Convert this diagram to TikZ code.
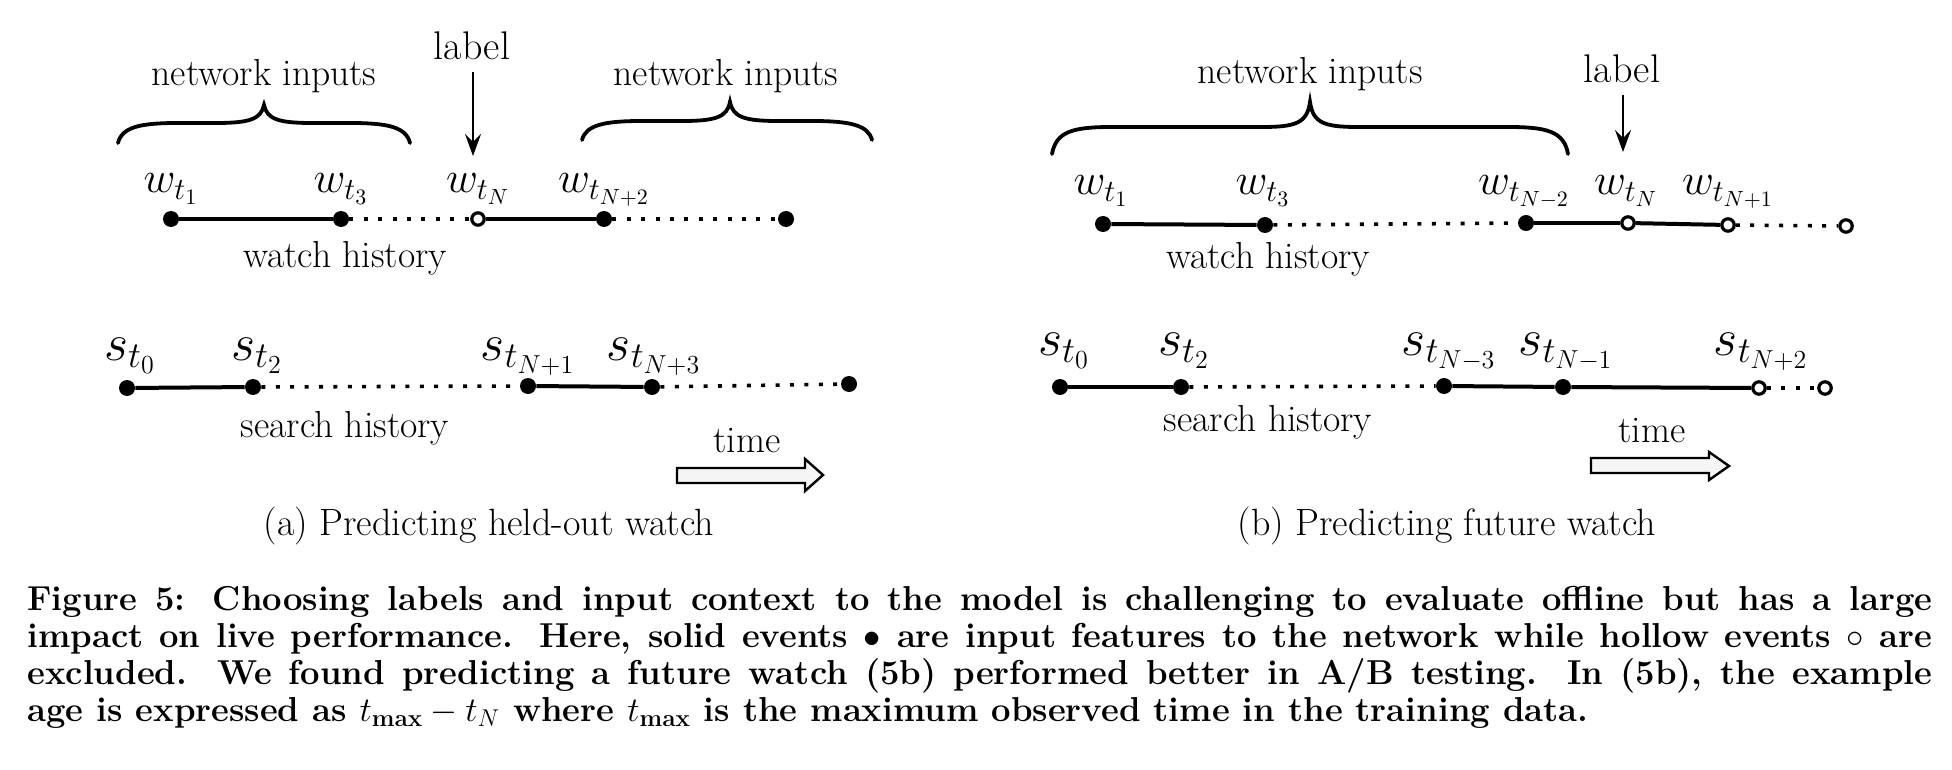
\RequirePackage{fix-cm}
\documentclass[tikz,border=0pt]{standalone}
\usetikzlibrary{arrows.meta}
\newcommand\drawbrace[6]{% x1, xm, x2, yend, yflat, ytip
  \draw[bracestyle] (#1,#4) .. controls (#1+4,#5+4) and (#1+22,#5) .. (#1+60,#5)
    -- (#2-48,#5) .. controls (#2-14,#5) and (#2-3,#5-4) .. (#2,#6)
    .. controls (#2+3,#5-4) and (#2+14,#5) .. (#2+48,#5)
    -- (#3-60,#5) .. controls (#3-22,#5) and (#3-4,#5+4) .. (#3,#4);}
\begin{document}
\begin{tikzpicture}[x=0.5pt,y=-0.5pt,
  dotf/.style={circle,fill=black,inner sep=0pt,minimum size=8pt},
  doth/.style={circle,draw=black,fill=white,line width=1.6pt,inner sep=0pt,minimum size=6.2pt},
  seg/.style={line width=2pt},
  dotseg/.style={line width=1.8pt,dash pattern=on 2pt off 5.2pt},
  bracestyle/.style={line width=1.9pt,line cap=round},
  lbl/.style={font=\fontsize{18.8}{21}\selectfont,inner sep=0pt,anchor=base},
  lab/.style={font=\fontsize{20}{22}\selectfont,inner sep=0pt,anchor=base},
  wl/.style={font=\fontsize{22}{24}\selectfont,inner sep=0pt,anchor=base},
  sl/.style={font=\fontsize{26}{28}\selectfont,inner sep=0pt,anchor=base},
  sub/.style={font=\fontsize{19}{21}\selectfont,inner sep=0pt,anchor=base},
  labarrow/.style={line width=1pt,-{Stealth[length=11pt,width=8pt,inset=4pt]}},
  timearrow/.style={draw=black,fill=gray!8,line width=1.2pt,line join=miter},
  captl/.style={inner sep=0pt,anchor=base west,font=\fontsize{17.3}{18.5}\selectfont\bfseries}
]
\useasboundingbox (0,0) rectangle (1952,770);
\fill[white] (0,0) rectangle (1952,770);

% ---------------- panel (a) ----------------
\node[lbl] (netA1) at (264,86) {network inputs};
\node[lbl] (netA2) at (726,86) {network inputs};
\drawbrace{118}{264}{410}{143}{123}{105}
\drawbrace{582}{730}{872}{140}{121}{102}
\node[lab] (labA) at (472,60) {label};
\coordinate (labAs) at (473,72);
\coordinate (labAe) at (473,156);
\draw[labarrow] (labAs) -- (labAe);

\node[dotf] (wa1) at (171,219) {};
\node[dotf] (wa2) at (341,219) {};
\node[doth] (wa3) at (478,219) {};
\node[dotf] (wa4) at (604,219) {};
\node[dotf] (wa5) at (786,219) {};
\draw[seg] (wa1) -- (wa2);
\draw[dotseg] (wa2) -- (wa3);
\draw[seg] (wa3) -- (wa4);
\draw[dotseg] (wa4) -- (wa5);
\node[wl] (lwa1) at (171,193) {$w_{t_1}$};
\node[wl] (lwa2) at (341,193) {$w_{t_3}$};
\node[wl] (lwa3) at (478,193) {$w_{t_N}$};
\node[wl] (lwa4) at (604,193) {$w_{t_{N+2}}$};
\node[lbl] (whA) at (345,267) {watch history};

\node[dotf] (sa1) at (127,388) {};
\node[dotf] (sa2) at (253,387) {};
\node[dotf] (sa3) at (528,386) {};
\node[dotf] (sa4) at (652,387) {};
\node[dotf] (sa5) at (849,384) {};
\draw[seg] (sa1) -- (sa2);
\draw[dotseg] (sa2) -- (sa3);
\draw[seg] (sa3) -- (sa4);
\draw[dotseg] (sa4) -- (sa5);
\node[sl] (lsa1) at (130,360) {$s_{t_0}$};
\node[sl] (lsa2) at (257,360) {$s_{t_2}$};
\node[sl] (lsa3) at (528,360) {$s_{t_{N+1}}$};
\node[sl] (lsa4) at (654,360) {$s_{t_{N+3}}$};
\node[lbl] (shA) at (345,437) {search history};

\node[lbl] (timeA) at (747,452) {time};
\draw[timearrow] (677,468) -- (805,468) -- (805,459) -- (823,475) -- (805,491) -- (805,483) -- (677,483) -- cycle;
\node[sub] (capA) at (489,535) {(a) Predicting held-out watch};

% ---------------- panel (b) ----------------
\node[lbl] (netB) at (1310,84) {network inputs};
\drawbrace{1052}{1310}{1568}{154}{127}{102}
\node[lab] (labB) at (1622,83) {label};
\coordinate (labBs) at (1623,95);
\coordinate (labBe) at (1623,152);
\draw[labarrow] (labBs) -- (labBe);

\node[dotf] (wb1) at (1103,224) {};
\node[dotf] (wb2) at (1265,225) {};
\node[dotf] (wb3) at (1526,223) {};
\node[doth] (wb4) at (1628,223) {};
\node[doth] (wb5) at (1728,225) {};
\node[doth] (wb6) at (1846,226) {};
\draw[seg] (wb1) -- (wb2);
\draw[dotseg] (wb2) -- (wb3);
\draw[seg] (wb3) -- (wb4);
\draw[seg] (wb4) -- (wb5);
\draw[dotseg] (wb5) -- (wb6);
\node[wl] (lwb1) at (1101,195) {$w_{t_1}$};
\node[wl] (lwb2) at (1263,195) {$w_{t_3}$};
\node[wl] (lwb3) at (1524,195) {$w_{t_{N-2}}$};
\node[wl] (lwb4) at (1626,195) {$w_{t_N}$};
\node[wl] (lwb5) at (1728,195) {$w_{t_{N+1}}$};
\node[lbl] (whB) at (1268,269) {watch history};

\node[dotf] (sb1) at (1060,387) {};
\node[dotf] (sb2) at (1181,387) {};
\node[dotf] (sb3) at (1444,386) {};
\node[dotf] (sb4) at (1563,387) {};
\node[doth] (sb5) at (1759,388) {};
\node[doth] (sb6) at (1825,388) {};
\draw[seg] (sb1) -- (sb2);
\draw[dotseg] (sb2) -- (sb3);
\draw[seg] (sb3) -- (sb4);
\draw[seg] (sb4) -- (sb5);
\draw[dotseg] (sb5) -- (sb6);
\node[sl] (lsb1) at (1064,355) {$s_{t_0}$};
\node[sl] (lsb2) at (1184,355) {$s_{t_2}$};
\node[sl] (lsb3) at (1449,355) {$s_{t_{N-3}}$};
\node[sl] (lsb4) at (1566,355) {$s_{t_{N-1}}$};
\node[sl] (lsb5) at (1761,355) {$s_{t_{N+2}}$};
\node[lbl] (shB) at (1268,431) {search history};

\node[lbl] (timeB) at (1652,442) {time};
\draw[timearrow] (1591,458) -- (1709,458) -- (1709,452) -- (1729,466) -- (1709,480) -- (1709,473) -- (1591,473) -- cycle;
\node[sub] (capB) at (1447,535) {(b) Predicting future watch};

% ---------------- caption ----------------
\node[captl] (cap1) at (27,610) {\makebox[952.5pt][s]{Figure 5: Choosing labels and input context to the model is challenging to evaluate offline but has a large}};
\node[captl] (cap2) at (27,647) {\makebox[952.5pt][s]{impact on live performance. Here, solid events $\bullet$ are input features to the network while hollow events $\circ$ are}};
\node[captl] (cap3) at (27,684) {\makebox[952.5pt][s]{excluded. We found predicting a future watch (5b) performed better in A/B testing. In (5b), the example}};
\node[captl] (cap4) at (27,721) {age is expressed as $t_{\mathbf{max}}-t_N$ where $t_{\mathbf{max}}$ is the maximum observed time in the training data.};
\end{tikzpicture}
\end{document}
